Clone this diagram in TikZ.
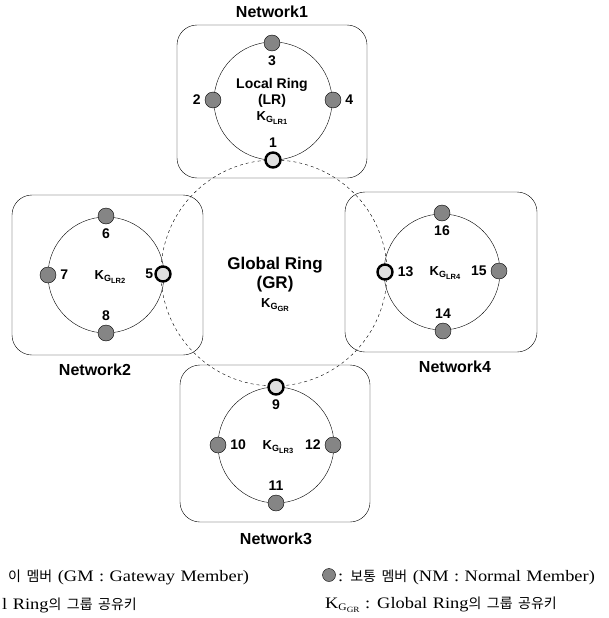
\documentclass[tikz,border=0pt]{standalone}
\usepackage{fontspec}
\setmainfont{Liberation Serif}[FakeStretch=1.15]
\newfontfamily\labelfont{Liberation Sans}
\newfontfamily\krfont{Noto Sans CJK KR}

% group key with nested subscript
\newcommand\grpkey[1]{K\raisebox{-0.3ex}{\fontsize{9}{9}\selectfont G\raisebox{-0.4ex}{\fontsize{7.5}{7.5}\selectfont #1}}}
\newcommand\kr[1]{{\krfont\fontsize{14}{14}\selectfont #1}}
\newcommand\legfont{\fontsize{16}{16}\selectfont\spaceskip=5.5pt\relax}

\begin{document}
\begin{tikzpicture}[
  x=1pt, y=-1pt,
  gm/.style={circle,draw,line width=2.4pt,fill=gray!25,minimum size=15pt,inner sep=0pt},
  nm/.style={circle,draw,thin,fill=black!48,minimum size=16pt,inner sep=0pt},
  num/.style={font=\labelfont\bfseries\fontsize{14}{14}\selectfont,inner sep=1pt,label distance=3pt},
  netbox/.style={draw,thin,rounded corners=20pt},
  nettitle/.style={font=\labelfont\bfseries\fontsize{16}{16}\selectfont},
  ringtext/.style={font=\labelfont\bfseries\fontsize{14}{14}\selectfont},
  grtext/.style={font=\labelfont\bfseries\fontsize{17}{17}\selectfont},
  keytext/.style={font=\labelfont\bfseries\fontsize{13}{13}\selectfont},
  legend/.style={font=\legfont,anchor=west,inner sep=0pt}
]
  \useasboundingbox (0,0) rectangle (608,618);

  % global ring
  \draw[dashed,thin] (274,273) circle (113);

  % network boxes
  \draw[netbox] (177,25) rectangle (367,178);
  \draw[netbox] (12,195) rectangle (203,355);
  \draw[netbox] (180,365) rectangle (370,522);
  \draw[netbox] (345,192) rectangle (537,352);

  % local rings
  \draw[thin] (273,101) circle (59);
  \draw[thin] (106,275) circle (58);
  \draw[thin] (276,445) circle (58);
  \draw[thin] (442,272) circle (58);

  \node[nettitle] (t1) at (272,12) {Network1};
  \node[nettitle] (t2) at (95,370) {Network2};
  \node[nettitle] (t3) at (276,539) {Network3};
  \node[nettitle] (t4) at (455,367) {Network4};

  \node[ringtext] (lr) at (272,85) {Local Ring};
  \node[ringtext] (lrs) at (272,101) {(LR)};
  \node[keytext] (k1) at (272,118) {\grpkey{LR1}};
  \node[grtext] (gr) at (275,265) {Global Ring};
  \node[grtext] (grs) at (275,284) {(GR)};
  \node[keytext] (kgr) at (275,305) {\grpkey{GR}};
  \node[keytext] (k2) at (110,277) {\grpkey{LR2}};
  \node[keytext] (k3) at (278,447) {\grpkey{LR3}};
  \node[keytext] (k4) at (445,273) {\grpkey{LR4}};

  % members
  \node[gm,label={[num]above:1}] (n1) at (273,160) {};
  \node[nm,label={[num]left:2}] (n2) at (213,100) {};
  \node[nm,label={[num]below:3}] (n3) at (272,43) {};
  \node[nm,label={[num]right:4}] (n4) at (333,100) {};
  \node[gm,label={[num,label distance=0pt]left:5}] (n5) at (163,274) {};
  \node[nm,label={[num]below:6}] (n6) at (106,216) {};
  \node[nm,label={[num]right:7}] (n7) at (48,275) {};
  \node[nm,label={[num]above:8}] (n8) at (106,333) {};
  \node[gm,label={[num]below:9}] (n9) at (276,387) {};
  \node[nm,label={[num]right:10}] (n10) at (218,445) {};
  \node[nm,label={[num]above:11}] (n11) at (276,503) {};
  \node[nm,label={[num]left:12}] (n12) at (333,445) {};
  \node[gm,label={[num]right:13}] (n13) at (385,272) {};
  \node[nm,label={[num]above:14}] (n14) at (443,331) {};
  \node[nm,label={[num]left:15}] (n15) at (499,271) {};
  \node[nm,label={[num]below:16}] (n16) at (442,213) {};

  % legend
  \node[legend] (l1) at (8,577) {\kr{이 멤버} (GM : Gateway Member)};
  \node[legend] (l2) at (2,605) {l Ring\kr{의 그룹 공유키}};
  \node[nm,minimum size=13pt] (lnm) at (329,575) {};
  \node[legend] (l3) at (338,577) {: \kr{보통 멤버} (NM : Normal Member)};
  \node[legend] (l4) at (325,605) {K\raisebox{-0.3ex}{\fontsize{10}{10}\selectfont G\raisebox{-0.4ex}{\fontsize{8}{8}\selectfont GR}} : Global Ring\kr{의 그룹 공유키}};
\end{tikzpicture}
\end{document}
